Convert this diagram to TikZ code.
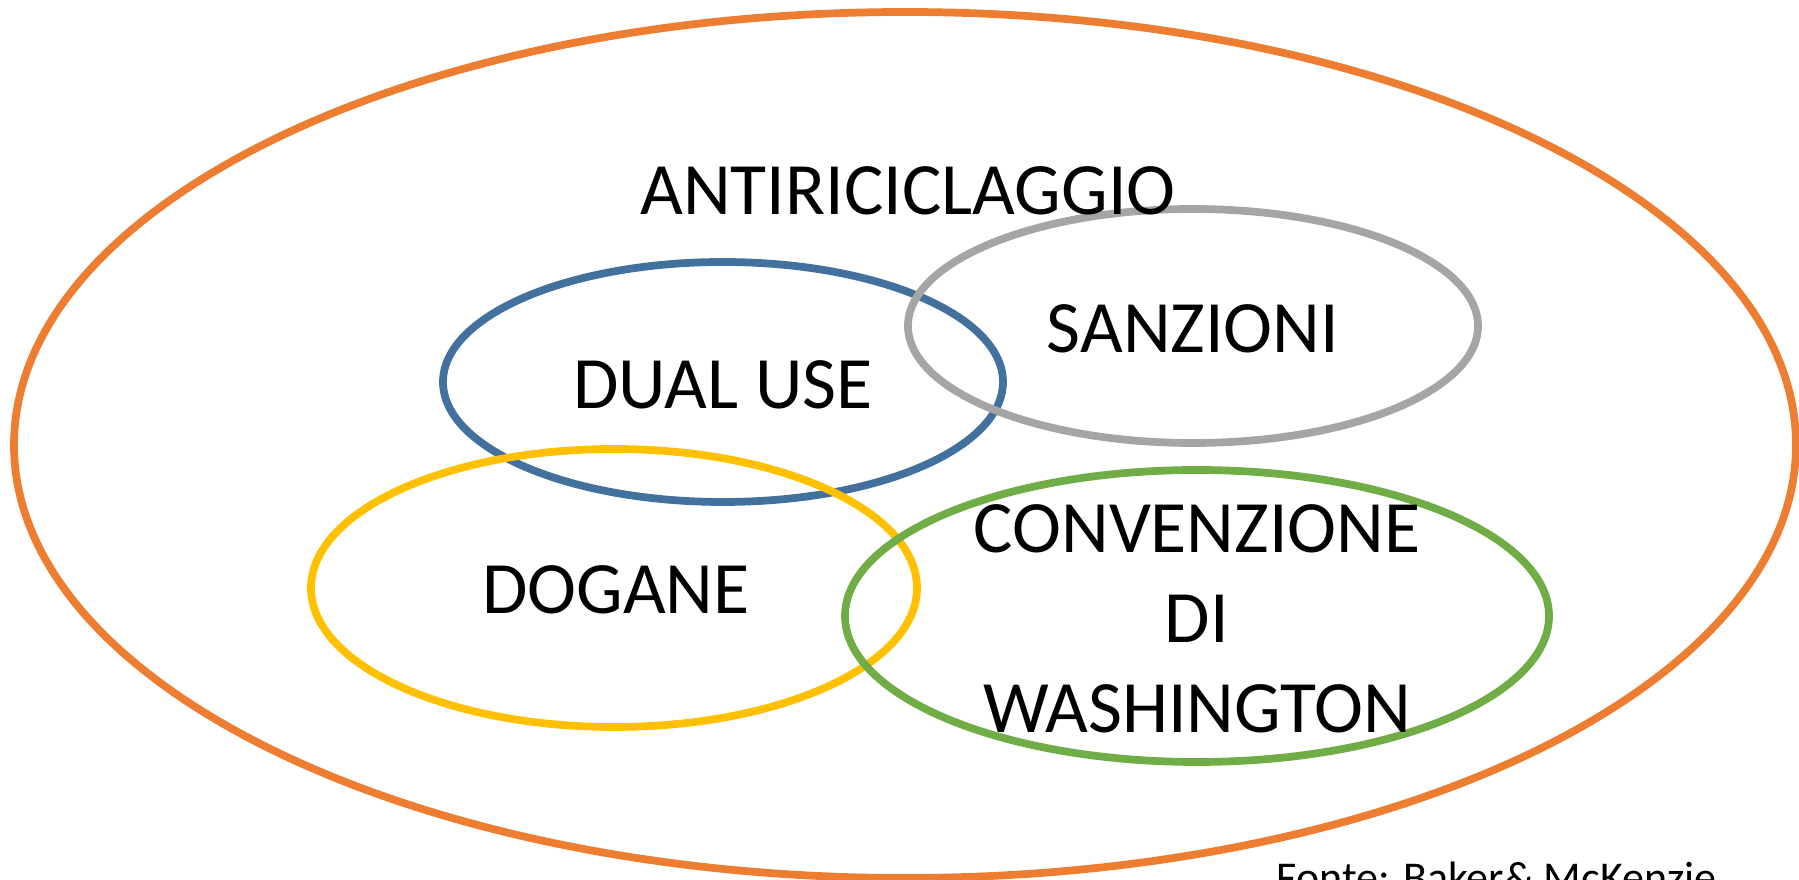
\documentclass[tikz,border=0pt]{standalone}
\usepackage{fontspec}
\setmainfont{Carlito}
\usepackage{xcolor}
\definecolor{ringorange}{HTML}{ED7D31}
\definecolor{ringblue}{HTML}{41719C}
\definecolor{ringgrey}{HTML}{A5A5A5}
\definecolor{ringyellow}{HTML}{FFC000}
\definecolor{ringgreen}{HTML}{70AD47}
\usepackage{tikz}
\tikzset{ring/.style={line width=2.2pt},
  lab/.style={font=\fontsize{21}{25.6}\selectfont, align=center, inner sep=0pt}}

\begin{document}
\begin{tikzpicture}[x=0.01cm,y=-0.01cm]
\useasboundingbox (0,0) rectangle (1799,880);

\draw[ring,ringorange] (905,445) ellipse (891 and 433);
\draw[ring,ringblue] (723,382) ellipse (280 and 120);
\draw[ring,ringgrey] (1193,326) ellipse (285 and 117);
\draw[ring,ringyellow] (614,588) ellipse (303 and 139);
\draw[ring,ringgreen] (1197,616) ellipse (352 and 146);

\node[lab] (anti) at (908,191) {ANTIRICICLAGGIO};
\node[lab] (dual) at (723,385) {DUAL USE};
\node[lab] (sanz) at (1193,329) {SANZIONI};
\node[lab] (dog) at (616,590) {DOGANE};
\node[lab] (conv) at (1197,619) {CONVENZIONE\\DI\\WASHINGTON};
\node[font=\fontsize{12.5}{15}\selectfont, anchor=north west, inner sep=0pt] (fonte) at (1276,861) {Fonte: Baker\& McKenzie};

\end{tikzpicture}
\end{document}
